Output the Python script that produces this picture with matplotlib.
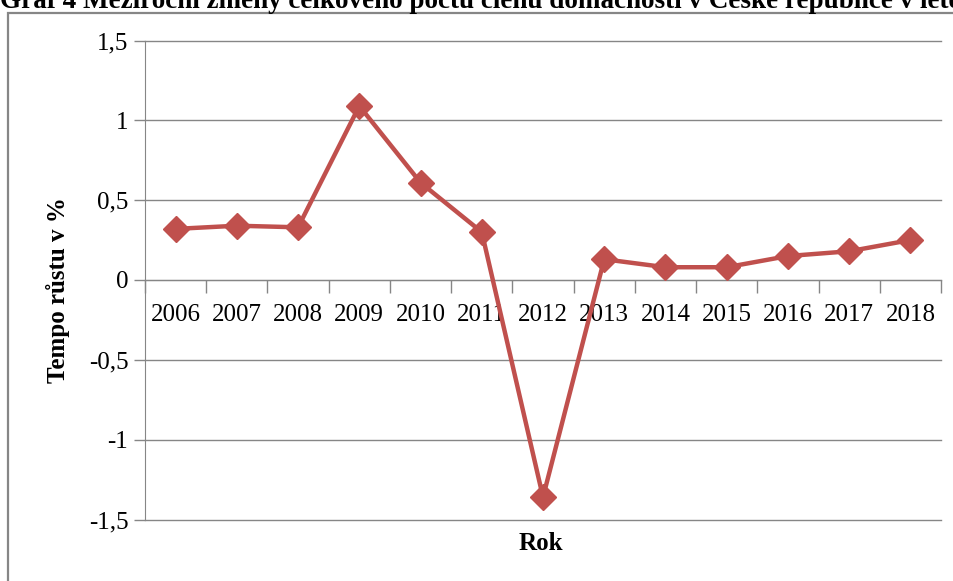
import matplotlib
matplotlib.use("Agg")
import matplotlib.pyplot as plt
import numpy as np
from matplotlib.patches import Rectangle

matplotlib.rcParams['font.family'] = ['Liberation Serif', 'DejaVu Serif']

years = ["2006", "2007", "2008", "2009", "2010", "2011", "2012",
         "2013", "2014", "2015", "2016", "2017", "2018"]
growth = [0.32, 0.34, 0.33, 1.09, 0.61, 0.30, -1.36,
          0.13, 0.08, 0.08, 0.15, 0.18, 0.25]
y_ticks = [-1.5, -1.0, -0.5, 0.0, 0.5, 1.0, 1.5]
y_tick_labels = ["-1,5", "-1", "-0,5", "0", "0,5", "1", "1,5"]

title = "Graf 4 Meziroční změny celkového počtu členů domácností v České republice v letech 2006–2018"

W, H = 954, 581
GRID = "#868686"
RED = "#C0504D"

fig = plt.figure(figsize=(W / 100, H / 100), dpi=100)

# chart border, running off the right and bottom of the page
fig.patches.append(Rectangle((8 / W, -0.1), 1.2, 1 - 13 / H + 0.1, transform=fig.transFigure,
                             fill=False, edgecolor=GRID, linewidth=1.6))

fig.text(0.0, 1 - 8 / H, title, ha='left', va='baseline', fontsize=19.5, fontweight='bold')

ax = fig.add_axes([145 / W, 1 - 519.5 / H, (941 - 145) / W, (519.5 - 40.5) / H])
x = np.arange(len(years))
ax.plot(x, growth, color=RED, linewidth=3.2, marker='D', markersize=13, zorder=3, clip_on=False)

ax.set_xlim(-0.5, len(years) - 0.5)
ax.set_ylim(-1.5, 1.5)
ax.set_yticks(y_ticks)
ax.set_yticklabels(y_tick_labels)
for yv in y_ticks:
    ax.axhline(yv, color=GRID, linewidth=1, zorder=0, clip_on=False)

# category axis crosses at zero, tick marks between categories
ax.spines['bottom'].set_position(('data', 0))
ax.spines['bottom'].set_color(GRID)
ax.spines['left'].set_color(GRID)
ax.spines['top'].set_visible(False)
ax.spines['right'].set_visible(False)
ax.set_xticks(np.arange(len(years) + 1) - 0.5)
ax.set_xticklabels([])
ax.tick_params(axis='x', which='major', direction='out', length=9, color=GRID, width=1)
ax.set_xticks(x, minor=True)
ax.set_xticklabels(years, minor=True, fontsize=18)
ax.tick_params(axis='x', which='minor', length=0, pad=17)
ax.tick_params(axis='y', direction='out', length=8, color=GRID, width=1, labelsize=18, pad=4)

fig.text(58 / W, 1 - 290 / H, "Tempo růstu v %", rotation=90, ha='center', va='center',
         fontsize=18, fontweight='bold')
fig.text(541 / W, 1 - 543 / H, "Rok", ha='center', va='center', fontsize=18, fontweight='bold')

fig.savefig("out.png", dpi=100)
